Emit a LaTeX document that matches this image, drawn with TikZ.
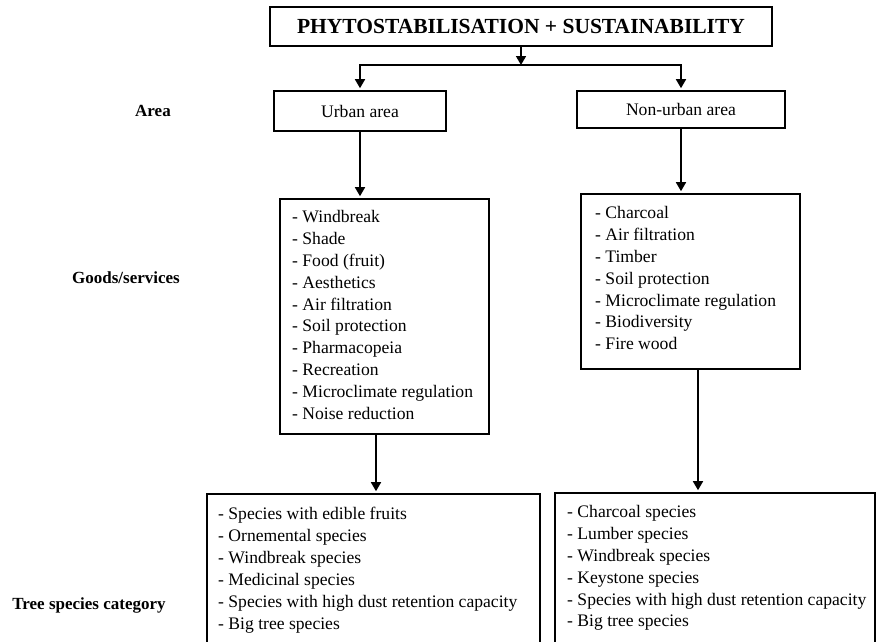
\documentclass[tikz,border=0pt]{standalone}
\usepackage{fontspec}
\setmainfont{Liberation Serif}
\usetikzlibrary{arrows.meta}

\tikzset{
  box/.style={draw, line width=1.6pt, inner sep=0pt, font=\fontsize{17.6}{21.9}\selectfont},
  list/.style={align=left, anchor=north west, inner sep=0pt, font=\fontsize{17.6}{21.9}\selectfont},
  rowlabel/.style={anchor=base, inner sep=0pt, font=\bfseries\fontsize{17}{20}\selectfont},
  arr/.style={line width=1.6pt, -{Triangle[length=9pt,width=10pt]}, shorten >=2pt}
}

\begin{document}
\begin{tikzpicture}[x=1pt,y=-1pt]
\useasboundingbox (0,0) rectangle (876,641);
\clip (0,0) rectangle (876,641);
% top and area boxes
\node[box, minimum width=502pt, minimum height=39pt, font=\bfseries\fontsize{21.5}{24}\selectfont] (title) at (521,26.5) {PHYTOSTABILISATION + SUSTAINABILITY};
\node[box, minimum width=172pt, minimum height=40pt] (urban) at (360,111) {Urban area};
\node[box, minimum width=208pt, minimum height=37pt] (nonurban) at (681,109.5) {Non-urban area};
% goods/services boxes
\node[box, minimum width=209pt, minimum height=235pt] (ugoods) at (384.5,316.5) {};
\node[box, minimum width=219pt, minimum height=175pt] (ngoods) at (690.5,281.5) {};
% tree species boxes (cut off at the bottom)
\node[box, minimum width=333pt, minimum height=170pt] (utree) at (373.5,579) {};
\node[box, minimum width=320pt, minimum height=170pt] (ntree) at (715,578) {};
% lists
\node[list] (ulist) at (292,210) {- Windbreak\\- Shade\\- Food (fruit)\\- Aesthetics\\- Air filtration\\- Soil protection\\- Pharmacopeia\\- Recreation\\- Microclimate regulation\\- Noise reduction};
\node[list] (nlist) at (595,206) {- Charcoal\\- Air filtration\\- Timber\\- Soil protection\\- Microclimate regulation\\- Biodiversity\\- Fire wood};
\node[list] (utlist) at (218,507) {- Species with edible fruits\\- Ornemental species\\- Windbreak species\\- Medicinal species\\- Species with high dust retention capacity\\- Big tree species};
\node[list] (ntlist) at (567,505) {- Charcoal species\\- Lumber species\\- Windbreak species\\- Keystone species\\- Species with high dust retention capacity\\- Big tree species};
% row labels
\node[rowlabel] (area) at (153,116) {Area};
\node[rowlabel] (goods) at (126,283) {Goods/services};
\node[rowlabel] (cat) at (89,609) {Tree species category};
% connectors
\coordinate (split) at (521,65);
\coordinate (ua) at (376,0);
\coordinate (na) at (698,0);
\draw[arr, shorten >=0pt] (title.south) -- (split);
\draw[arr] (split) -| (urban.north);
\draw[arr] (split) -| (nonurban.north);
\draw[arr] (urban.south) -- (urban.south |- ugoods.north);
\draw[arr] (nonurban.south) -- (nonurban.south |- ngoods.north);
\draw[arr] (ugoods.south -| ua) -- (utree.north -| ua);
\draw[arr] (ngoods.south -| na) -- (ntree.north -| na);
\end{tikzpicture}
\end{document}
